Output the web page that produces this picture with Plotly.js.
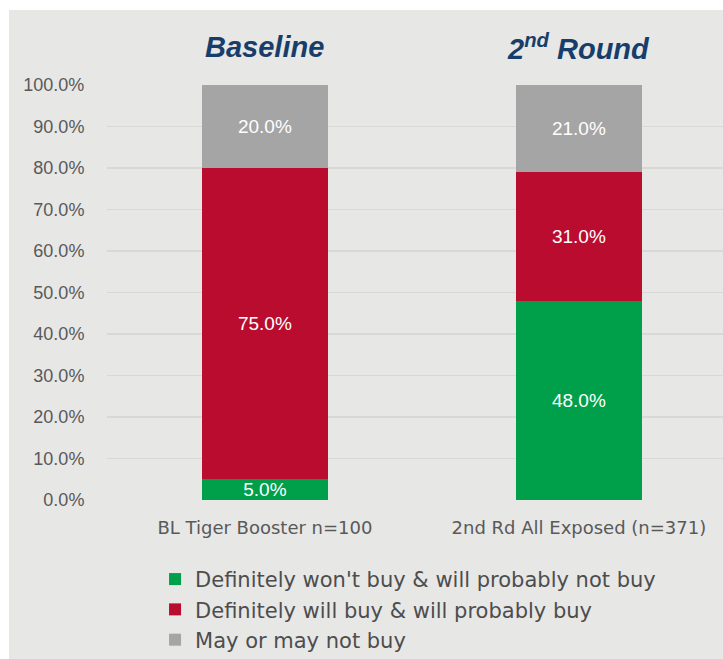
<!DOCTYPE html>
<html>
<head>
<meta charset="utf-8">
<script src="https://cdn.plot.ly/plotly-3.0.1.min.js"></script>
<style>
  html, body { margin: 0; padding: 0; background: #ffffff; overflow: hidden; }
  #chart { position: absolute; left: 9px; top: 10px; width: 714px; height: 649px; }
</style>
</head>
<body>
<div id="chart"></div>
<script>
const categories = ['BL Tiger Booster n=100', '2nd Rd All Exposed (n=371)'];
const panelTitles = ['Baseline', '2<sup>nd</sup> Round'];
const wontBuy = [5.0, 48.0];
const willBuy = [75.0, 31.0];
const mayBuy = [20.0, 21.0];
const seriesNames = [
  "Definitely won't buy & will probably not buy",
  'Definitely will buy & will probably buy',
  'May or may not buy'
];
const yTicks = [0, 10, 20, 30, 40, 50, 60, 70, 80, 90, 100];

const FONT = 'Liberation Sans, Arial, sans-serif';
const WIDE = 'DejaVu Sans, Liberation Sans, sans-serif';
const colors = ['#00a04a', '#ba0c2f', '#a5a5a5'];
const series = [wontBuy, willBuy, mayBuy];

const traces = series.map((vals, i) => ({
  type: 'bar',
  name: seriesNames[i],
  x: categories,
  y: vals,
  width: 0.401,
  marker: { color: colors[i], line: { width: 0 } },
  text: vals.map(v => v.toFixed(1) + '%'),
  textposition: 'inside',
  insidetextanchor: 'middle',
  textangle: 0,
  constraintext: 'none',
  textfont: { family: FONT, size: 19, color: '#ffffff' },
  hoverinfo: 'skip'
}));

const annotations = categories.map((c, i) => ({
  x: c, xref: 'x',
  y: 1.092, yref: 'paper',
  yanchor: 'middle', xanchor: 'center',
  text: '<i>' + panelTitles[i] + '</i>',
  showarrow: false,
  font: { family: FONT, size: 29, weight: 'bold', color: '#173e6b' }
}));

const layout = {
  width: 714, height: 649,
  paper_bgcolor: '#e7e7e6',
  plot_bgcolor: '#e7e7e6',
  margin: { l: 98, r: 0, t: 75, b: 159, pad: 0, autoexpand: false },
  barmode: 'stack',
  showlegend: true,
  legend: {
    x: 0.078, xanchor: 'left',
    y: -0.142, yanchor: 'top',
    traceorder: 'normal',
    bgcolor: 'rgba(0,0,0,0)',
    font: { family: WIDE, size: 21, color: '#4d4d4d' },
    tracegroupgap: 0
  },
  xaxis: {
    type: 'category',
    range: [-0.503, 1.459],
    showgrid: false,
    zeroline: false,
    showline: false,
    ticks: 'outside', ticklen: 11, tickcolor: 'rgba(0,0,0,0)',
    tickfont: { family: WIDE, size: 18, color: '#595959' },
    fixedrange: true
  },
  yaxis: {
    range: [0, 100],
    tickvals: yTicks,
    ticktext: yTicks.map(v => v.toFixed(1) + '%'),
    showgrid: true,
    gridcolor: '#d8d8d7',
    gridwidth: 1.5,
    zeroline: false,
    showline: false,
    ticks: 'outside', ticklen: 18, tickcolor: 'rgba(0,0,0,0)',
    tickfont: { family: FONT, size: 18, color: '#595959' },
    fixedrange: true
  },
  annotations: annotations
};

Plotly.newPlot('chart', traces, layout, { displayModeBar: false, staticPlot: true });
</script>
</body>
</html>
